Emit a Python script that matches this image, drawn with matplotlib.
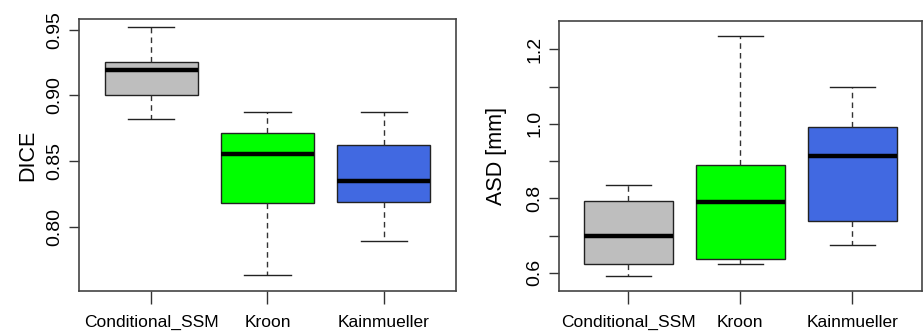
"""
Two side-by-side boxplots (DICE and ASD) comparing three segmentation methods,
drawn in the style of base R boxplot().
"""
import matplotlib
matplotlib.use("Agg")
import matplotlib.pyplot as plt  # noqa: E402

METHODS = ["Conditional_SSM", "Kroon", "Kainmueller"]
COLORS = ["#bebebe", "#00ff00", "#4169e1"]

# five-number summaries: low whisker, q1, median, q3, high whisker
DICE_LOW = [0.882, 0.763, 0.789]
DICE_Q1 = [0.900, 0.818, 0.819]
DICE_MED = [0.919, 0.855, 0.835]
DICE_Q3 = [0.925, 0.871, 0.862]
DICE_HIGH = [0.952, 0.887, 0.887]

ASD_LOW = [0.592, 0.623, 0.676]
ASD_Q1 = [0.623, 0.638, 0.738]
ASD_MED = [0.700, 0.791, 0.913]
ASD_Q3 = [0.794, 0.889, 0.993]
ASD_HIGH = [0.836, 1.236, 1.100]

DICE_TICKS = [0.80, 0.85, 0.90, 0.95]
ASD_TICKS = [0.6, 0.7, 0.8, 0.9, 1.0, 1.1, 1.2]
ASD_LABELS = ["0.6", "", "0.8", "", "1.0", "", "1.2"]

FRAME = "#444444"
FONT = "Liberation Sans"


def make_stats(low, q1, med, q3, high):
    return [dict(whislo=a, q1=b, med=c, q3=d, whishi=e, fliers=[])
            for a, b, c, d, e in zip(low, q1, med, q3, high)]


def draw_panel(ax, stats, ylabel, ylim, ticks, labels, labelpad):
    bp = ax.bxp(stats, positions=[1, 2, 3], widths=0.8, patch_artist=True,
                showfliers=False,
                boxprops=dict(edgecolor="#222222", linewidth=1.0),
                medianprops=dict(color="black", linewidth=3.2, solid_capstyle="butt"),
                whiskerprops=dict(color="#333333", linewidth=1.0, linestyle=(0, (4, 3))),
                capprops=dict(color="#222222", linewidth=1.0),
                capwidths=0.4)
    for patch, c in zip(bp["boxes"], COLORS):
        patch.set_facecolor(c)
    ax.set_xlim(0.38, 3.62)
    ax.set_ylim(*ylim)
    ax.set_xticks([1, 2, 3])
    ax.set_xticklabels(METHODS, family=FONT, fontsize=12.5)
    ax.set_yticks(ticks)
    ax.set_yticklabels(labels, rotation=90, va="center", fontsize=14, family=FONT)
    ax.tick_params(axis="x", length=9, width=1.0, color="#333333", pad=8)
    ax.tick_params(axis="y", length=7, width=1.0, color="#333333", pad=4)
    ax.set_ylabel(ylabel, fontsize=15.5, family=FONT, labelpad=labelpad)
    for s in ax.spines.values():
        s.set_color(FRAME)
        s.set_linewidth(1.2)


fig = plt.figure(figsize=(9.23, 3.35), dpi=100)
ax1 = fig.add_axes([0.0856, 0.131, 0.4084, 0.812])
ax2 = fig.add_axes([0.6056, 0.131, 0.3930, 0.807])

draw_panel(ax1, make_stats(DICE_LOW, DICE_Q1, DICE_MED, DICE_Q3, DICE_HIGH),
           "DICE", (0.751, 0.958), DICE_TICKS, [f"{t:.2f}" for t in DICE_TICKS], 6)
draw_panel(ax2, make_stats(ASD_LOW, ASD_Q1, ASD_MED, ASD_Q3, ASD_HIGH),
           "ASD [mm]", (0.551, 1.277), ASD_TICKS, ASD_LABELS, 14)

fig.savefig("out.png", dpi=100)
